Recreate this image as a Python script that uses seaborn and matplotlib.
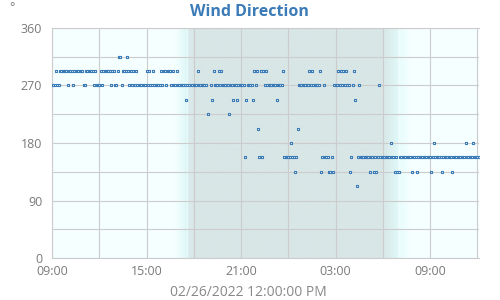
import numpy as np
import pandas as pd
import matplotlib
matplotlib.use("Agg")
import matplotlib.pyplot as plt
import matplotlib.dates as mdates
import seaborn as sns

# ---------------- data ----------------
title = "Wind Direction"
unit_label = "°"
x_caption = "02/26/2022 12:00:00 PM"
start_time = "2022-02-26 09:00"
end_time = "2022-02-27 12:06"
sample_interval = "5min"
nan = float("nan")

# wind direction (degrees), one reading every 5 minutes from 09:00 (one line per hour)
direction_deg = [
    270, 270, 270, 292.5, 270, 270, 292.5, 292.5, 292.5, 292.5, 292.5, 292.5,
    270, 292.5, 292.5, 292.5, 270, 292.5, 292.5, 292.5, 292.5, 292.5, 292.5, 292.5,
    270, 270, 292.5, 292.5, 292.5, 292.5, 292.5, 292.5, 270, 292.5, 270, 270,
    270, 292.5, 270, 292.5, 292.5, 292.5, 292.5, 292.5, 292.5, 270, 292.5, 292.5,
    270, 270, 292.5, 315, 315, 270, 292.5, 292.5, 292.5, 315, 292.5, 270,
    292.5, 270, 292.5, 270, 292.5, 270, 270, 270, 270, 270, 270, 270,
    292.5, 270, 292.5, 270, 270, 292.5, 270, 270, 270, 270, 270, 292.5,
    270, 292.5, 292.5, 270, 292.5, 292.5, 292.5, 270, 292.5, 270, 270, 292.5,
    270, 270, 270, 270, 270, 270, 247.5, 270, 270, nan, nan, 270,
    270, 270, 270, 292.5, 270, 270, 270, 270, 270, 270, nan, 225,
    nan, 270, 247.5, 292.5, 270, 270, 270, 292.5, 270, 292.5, 270, 270,
    270, 270, 270, 225, 270, 270, 247.5, 270, 270, 247.5, 270, 270,
    270, 270, 270, 157.5, 247.5, 270, 270, 270, 270, 247.5, 292.5, 270,
    292.5, 202.5, 157.5, 292.5, 157.5, 292.5, 270, 292.5, 270, 270, 270, 270,
    270, 270, 270, 247.5, 270, 270, 270, 270, 292.5, 157.5, 157.5, 157.5,
    157.5, 157.5, 180, 157.5, 157.5, 135, 157.5, 202.5, 270, 270, 270, 270,
    270, 270, 270, 270, 292.5, 270, 292.5, 270, 270, 270, 270, 270,
    292.5, 135, 157.5, 270, 157.5, 157.5, 157.5, 135, 135, 157.5, 135, 270,
    270, 270, 292.5, 270, 292.5, 270, 292.5, 270, 292.5, 270, 270, 135,
    157.5, 270, 292.5, 247.5, 112.5, 157.5, 270, 157.5, 157.5, 157.5, 157.5, 157.5,
    157.5, 157.5, 135, 157.5, 157.5, 135, 157.5, 135, 157.5, 270, 157.5, 157.5,
    157.5, 157.5, 157.5, 157.5, 157.5, 157.5, 180, 157.5, 157.5, 135, 157.5, 135,
    135, 157.5, 157.5, 157.5, 157.5, 157.5, 157.5, 157.5, 157.5, 157.5, 135, 157.5,
    157.5, 157.5, 135, 157.5, 157.5, 157.5, 157.5, 157.5, 157.5, 157.5, 157.5, 157.5,
    157.5, 135, 157.5, 180, 157.5, 157.5, 157.5, 157.5, 157.5, 135, 157.5, 157.5,
    157.5, 157.5, 157.5, 157.5, 157.5, 135, 157.5, 157.5, 157.5, 157.5, 157.5, 157.5,
    157.5, 157.5, 157.5, 180, 157.5, 157.5, 157.5, 157.5, 157.5, 180, 157.5, 157.5,
    157.5, 157.5,
]
y_ticks = [0, 90, 180, 270, 360]
y_minor = [45, 135, 225, 315]

# day / twilight / night background stops (hours after start, RGB)
shade_hours = [0, 7.8, 8.55, 8.6, 8.65, 9.0, 21.0, 21.95, 22.05, 22.15, 22.7, 27.2]
shade_rgb = [(245, 255, 255), (245, 255, 255), (222, 247, 247), (240, 253, 253),
             (219, 235, 235), (216, 230, 230), (216, 230, 230), (224, 248, 248),
             (242, 254, 254), (232, 252, 252), (245, 255, 255), (245, 255, 255)]

# ---------------- plot ----------------
BLUE = "#3b7bb8"
GRID = "#cccccc"
TXT = "#7a7a7a"

sns.set_theme(style="white")
plt.rcParams["font.family"] = ["Open Sans", "DejaVu Sans"]

times = pd.date_range(start_time, periods=len(direction_deg), freq=sample_interval)
df = pd.DataFrame({"time": times, "direction": direction_deg}).dropna()

fig = plt.figure(figsize=(5, 3), dpi=100)
ax = fig.add_axes([52 / 500, 42 / 300, 427 / 500, 230 / 300])

sns.scatterplot(data=df, x="time", y="direction", ax=ax, marker="s", s=3.0,
                color="white", edgecolor=BLUE, linewidth=0.8, legend=False,
                zorder=3)

t0 = pd.Timestamp(start_time)
t1 = pd.Timestamp(end_time)
x0, x1 = mdates.date2num(t0), mdates.date2num(t1)

# background gradient
fine = np.linspace(0, (x1 - x0) * 24, 1200)
rgb = np.stack([np.interp(fine, shade_hours, [c[k] for c in shade_rgb]) for k in range(3)], axis=-1) / 255.0
ax.imshow(rgb[np.newaxis, :, :], extent=[x0, x1, 0, 360], aspect="auto",
          interpolation="bilinear", zorder=0)

ax.set_xlim(t0, t1)
ax.set_ylim(0, 360)
ax.set_yticks(y_ticks)
ax.set_yticks(y_minor, minor=True)
ax.xaxis.set_major_locator(mdates.HourLocator(byhour=[3, 9, 15, 21]))
ax.xaxis.set_minor_locator(mdates.HourLocator(byhour=[0, 6, 12, 18]))
ax.xaxis.set_major_formatter(mdates.DateFormatter("%H:%M"))

ax.set_axisbelow(True)
ax.grid(True, which="both", color=GRID, linewidth=0.8)
for g in ax.get_xgridlines() + ax.get_ygridlines():
    g.set_zorder(1)
ax.tick_params(which="both", length=0, labelsize=9, labelcolor=TXT)
ax.tick_params(axis="y", pad=7)
ax.tick_params(axis="x", pad=5)
ax.set_xlabel("")
ax.set_ylabel("")
for side in ["left", "bottom", "top"]:
    ax.spines[side].set_visible(True)
    ax.spines[side].set_color(GRID)
    ax.spines[side].set_linewidth(0.8)
ax.spines["right"].set_visible(False)

fig.text(0.498, 1 - 12 / 300, title, ha="center", va="center", fontsize=11.5,
         fontweight="bold", color=BLUE)
fig.text(12 / 500, 1 - 8 / 300, unit_label, ha="center", va="center",
         fontsize=9, color=TXT)
fig.text(0.497, 1 - 293 / 300, x_caption, ha="center", va="center",
         fontsize=10, color="#888888")

fig.savefig("out.png", dpi=100)
